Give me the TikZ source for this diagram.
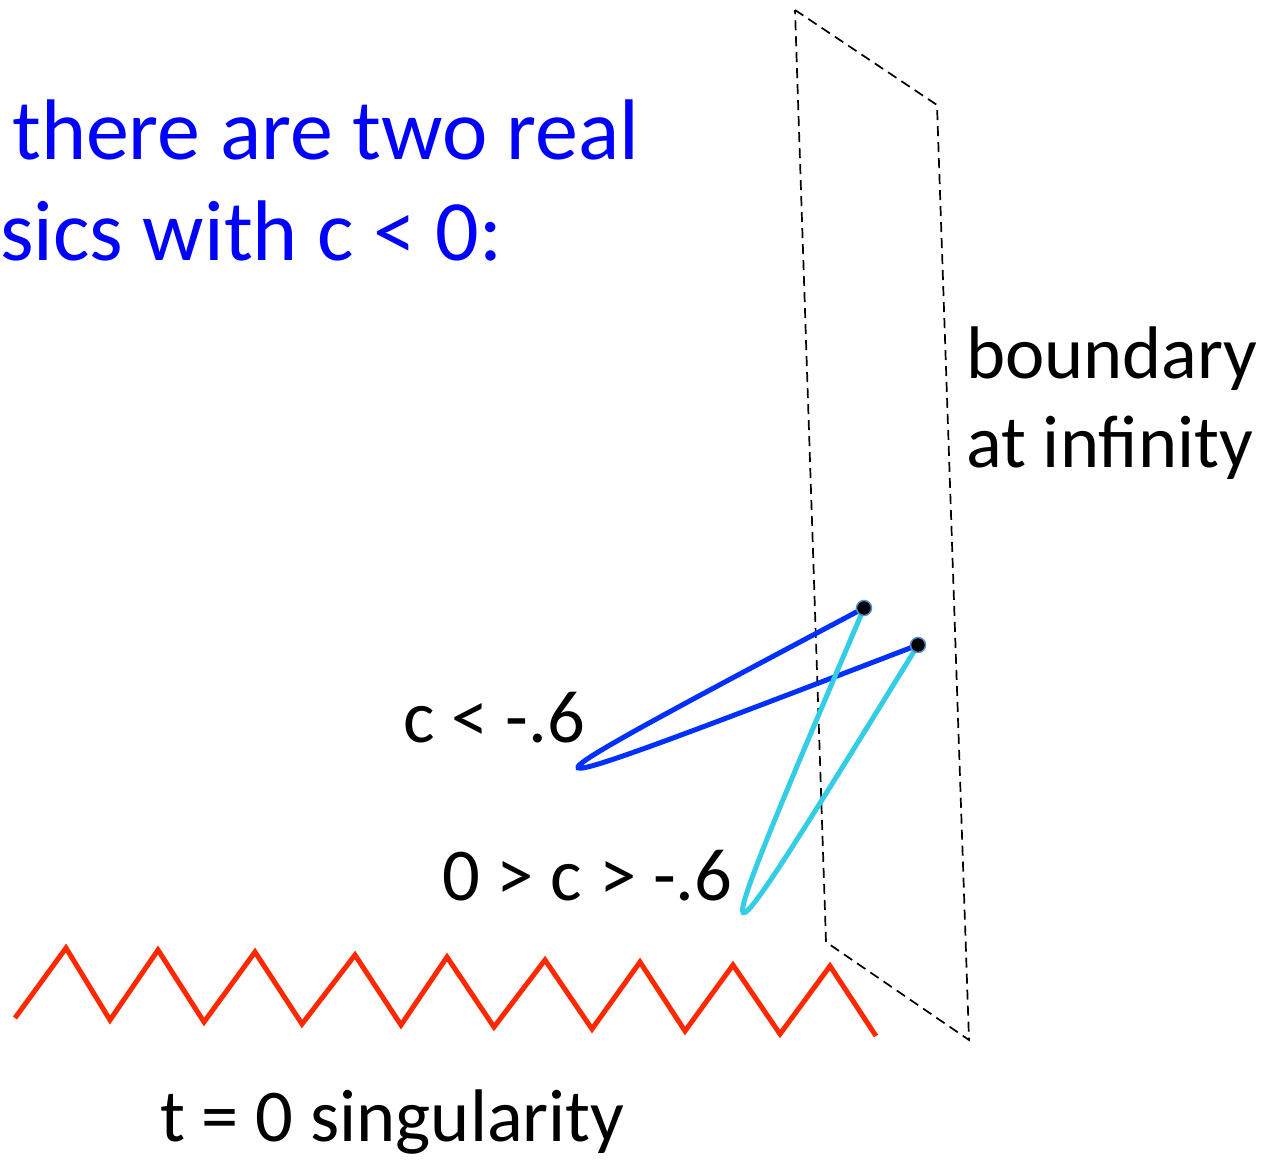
\documentclass[tikz,border=0pt]{standalone}
\usepackage{fontspec}
\setmainfont{Carlito}
\usepackage{tikz}
\usetikzlibrary{calc,positioning}
\definecolor{headblue}{RGB}{0,0,255}
\definecolor{geoblue}{RGB}{0,48,255}
\definecolor{geocyan}{RGB}{52,205,230}
\definecolor{singred}{RGB}{255,40,0}
\definecolor{dotrim}{RGB}{90,140,200}
\tikzset{
  headtext/.style={anchor=base west, inner sep=0pt, text=headblue, font=\fontsize{86}{98}\selectfont},
  plaintext/.style={anchor=base west, inner sep=0pt, font=\fontsize{74.5}{88}\selectfont},
  bdry/.style={draw=black, line width=1.7pt, dash pattern=on 10pt off 6pt},
  geoA/.style={draw=geoblue, line width=5pt},
  geoB/.style={draw=geocyan, line width=5pt},
  singline/.style={draw=singred, line width=5pt, line join=miter},
  endpt/.style={circle, fill=black, draw=dotrim, line width=1.5pt, minimum size=15pt, inner sep=0pt}
}

\begin{document}
\begin{tikzpicture}[x=1pt, y=-1pt]
  \useasboundingbox (0,0) rectangle (1268,1161);

  \node[headtext] (head1) at (12,160) {there are two real};
  \node[headtext] (head2) at (0,260) {sics with c < 0:};

  % boundary at infinity
  \coordinate (btl) at (795,10);
  \coordinate (btr) at (937,105);
  \coordinate (bbr) at (969,1040);
  \coordinate (bbl) at (826,942);
  \draw[bdry] (btl) -- (btr) -- (bbr) -- (bbl) -- cycle;
  \node[plaintext] (bnd1) at (966,378) {boundary};
  \node[plaintext] (bnd2) at (966,467) {at infinity};

  % geodesics
  \coordinate (endA) at (864,608);
  \coordinate (endB) at (918,645);
  \draw[geoA] (endA) .. controls (474,815) and (474,815) .. (endB);
  \draw[geoB] (endA) .. controls (694,1008) and (694,1008) .. (endB);
  \node[endpt] (dotA) at (endA) {};
  \node[endpt] (dotB) at (endB) {};

  \node[plaintext] (lblA) at (403,742) {c < -.6};
  \node[plaintext] (lblB) at (442,900) {0 > c > -.6};

  % singularity
  \draw[singline] (15,1018) -- (66,948) -- (110,1020) -- (158,950) -- (204,1022)
    -- (255,952) -- (302,1024) -- (355,955) -- (401,1025) -- (447,957)
    -- (494,1027) -- (545,960) -- (592,1029) -- (640,962) -- (685,1031)
    -- (733,965) -- (780,1034) -- (830,966) -- (876,1036);
  \node[plaintext] (sing) at (160,1141) {t = 0 singularity};
\end{tikzpicture}
\end{document}
